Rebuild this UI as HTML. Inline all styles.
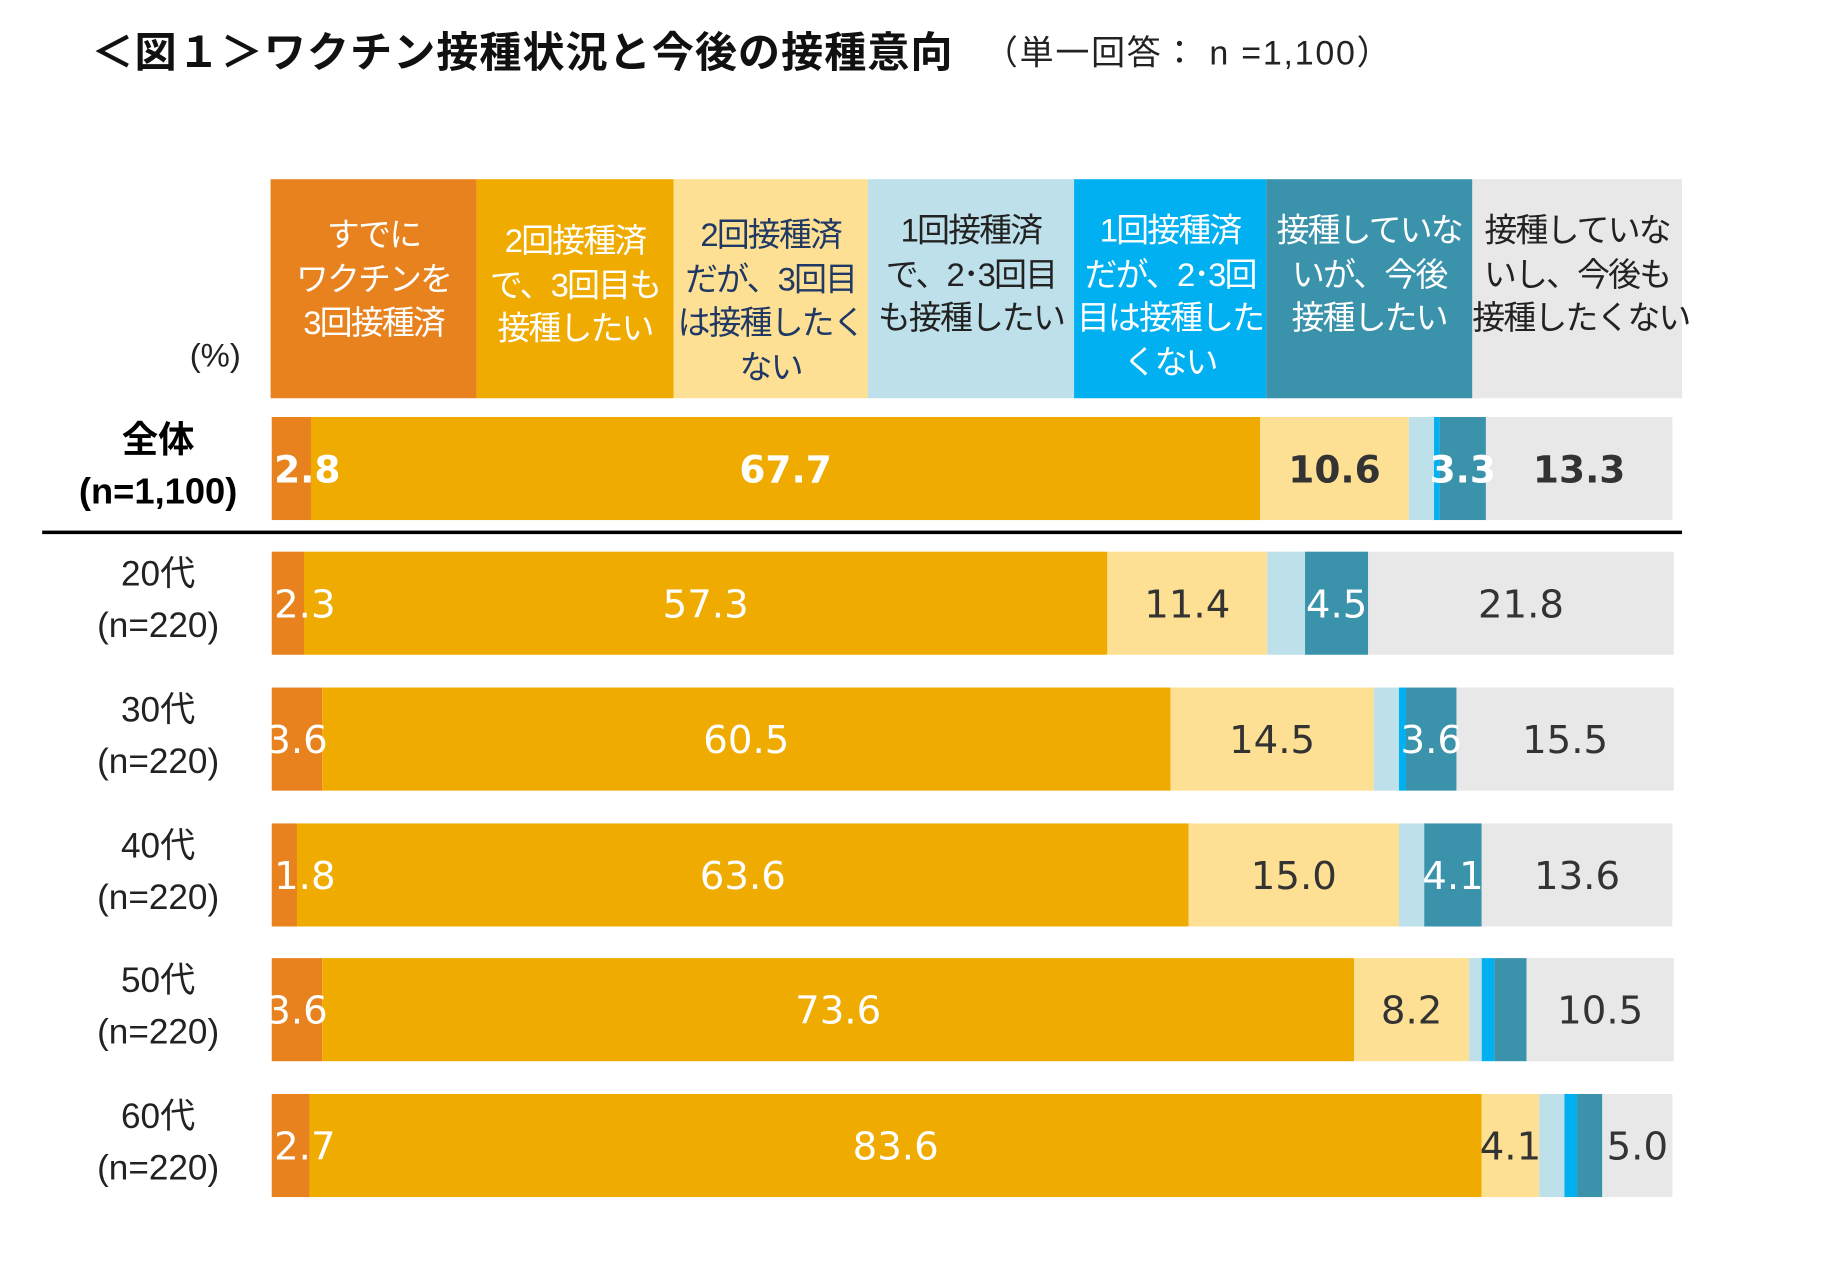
<!DOCTYPE html>
<html><head><meta charset="utf-8">
<style>
html,body{margin:0;padding:0;background:#fff;}
body{width:1839px;height:1263px;overflow:hidden;position:relative;}
#wrap{position:absolute;left:0;top:0;width:1570px;height:1078px;transform:scale(1.1713);transform-origin:0 0;font-family:"Liberation Sans","Noto Sans CJK JP",sans-serif;}
.title{position:absolute;left:78px;top:16px;font-size:36px;font-weight:bold;color:#111;white-space:nowrap;letter-spacing:0.8px;}
.sub{position:absolute;left:840px;top:22px;font-size:29px;color:#222;white-space:nowrap;letter-spacing:1.5px;}
.hc{position:absolute;top:153px;height:187px;font-size:28px;line-height:37.5px;text-align:center;white-space:nowrap;letter-spacing:-1.5px;box-sizing:border-box;}
.rl{position:absolute;width:200px;left:35px;text-align:center;white-space:nowrap;color:#222;}
</style></head><body>
<div id="wrap">
<div class="title">＜図１＞ワクチン接種状況と今後の接種意向</div>
<div class="sub">（単一回答： n =1,100）</div>
<div style="position:absolute;left:162px;top:288px;font-size:28px;color:#222;">(%)</div>

<div class="hc" style="left:231px;width:176px;background:#E8821E;color:#fff;padding-top:29px;">すでに<br>ワクチンを<br>3回接種済</div>
<div class="hc" style="left:407px;width:168px;background:#F0AB00;color:#fff;padding-top:34px;">2回接種済<br>で、3回目も<br>接種したい</div>
<div class="hc" style="left:575px;width:166px;background:#FDE093;color:#1F3864;padding-top:29px;">2回接種済<br>だが、3回目<br>は接種したく<br>ない</div>
<div class="hc" style="left:741px;width:176px;background:#BEE0EA;color:#222;padding-top:25px;">1回接種済<br>で、2･3回目<br>も接種したい</div>
<div class="hc" style="left:917px;width:164px;background:#00B0F0;color:#fff;padding-top:25px;">1回接種済<br>だが、2･3回<br>目は接種した<br>くない</div>
<div class="hc" style="left:1081px;width:176px;background:#3A92AB;color:#fff;padding-top:25px;">接種していな<br>いが、今後<br>接種したい</div>
<div class="hc" style="left:1257px;width:179px;background:#E8E8E8;color:#222;padding-top:25px;">接種していな<br>いし、今後も<br>接種したくない</div>

<div style="position:absolute;left:36px;top:453px;width:1400px;height:3px;background:#000;"></div>

<svg id="bars" width="1570" height="1078" style="position:absolute;left:0;top:0;"></svg>
</div>
<script>
const categories = ["全体|(n=1,100)","20代|(n=220)","30代|(n=220)","40代|(n=220)","50代|(n=220)","60代|(n=220)"];
const s0 = [2.8,2.3,3.6,1.8,3.6,2.7];
const s1 = [67.7,57.3,60.5,63.6,73.6,83.6];
const s2 = [10.6,11.4,14.5,15.0,8.2,4.1];
const s3 = [1.8,2.7,1.8,1.8,0.9,1.8];
const s4 = [0.4,0.0,0.5,0.0,0.9,0.9];
const s5 = [3.3,4.5,3.6,4.1,2.3,1.8];
const s6 = [13.3,21.8,15.5,13.6,10.5,5.0];
const series = [s0,s1,s2,s3,s4,s5,s6];
const colors = ["#E8821E","#F0AB00","#FDE093","#BEE0EA","#00B0F0","#3A92AB","#E8E8E8"];
const labelColors = ["#fff","#fff","#333","#333","#fff","#fff","#333"];
const rowTops = [356,471,587,703,818,934];
const X0 = 232, PX = 11.97, BH = 88;
const xs = v => X0 + v*PX;
const svg = document.getElementById('bars');
const NS = "http://www.w3.org/2000/svg";
const wrap = document.getElementById('wrap');
categories.forEach((c,i)=>{
  const y = rowTops[i];
  let acc = 0;
  series.forEach((s,k)=>{
    const v = s[i];
    if (v>0){
      const r = document.createElementNS(NS,'rect');
      r.setAttribute('x', xs(acc)); r.setAttribute('y', y);
      r.setAttribute('width', v*PX); r.setAttribute('height', BH);
      r.setAttribute('fill', colors[k]);
      
      
      svg.appendChild(r);
    }
    acc += v;
  });
  acc = 0;
  series.forEach((s,k)=>{
    const v = s[i];
    if (v>=3 || k===0){
      const t = document.createElementNS(NS,'text');
      if (k===0 && v<3){
        t.setAttribute('x', X0+2); t.setAttribute('text-anchor','start');
      } else {
        t.setAttribute('x', xs(acc+v/2)); t.setAttribute('text-anchor','middle');
      }
      t.setAttribute('y', y+BH/2+12);
      t.setAttribute('font-family','"DejaVu Sans",sans-serif');
      t.setAttribute('font-size', i===0?32:33);
      if(i===0) t.setAttribute('font-weight','bold');
      t.setAttribute('fill', labelColors[k]);
      t.textContent = v.toFixed(1);
      
      
      svg.appendChild(t);
    }
    acc += v;
  });
  const parts = c.split('|');
  const d = document.createElement('div');
  d.className='rl';
  d.style.top = (y-2)+'px';
  d.style.fontSize = i===0?'31px':'30px';
  d.style.lineHeight = '44px';
  if(i===0){d.style.fontWeight='bold';d.style.color='#000';}
  d.innerHTML = parts[0]+'<br>'+parts[1];
  
  
  wrap.appendChild(d);
});
</script>
</body></html>
